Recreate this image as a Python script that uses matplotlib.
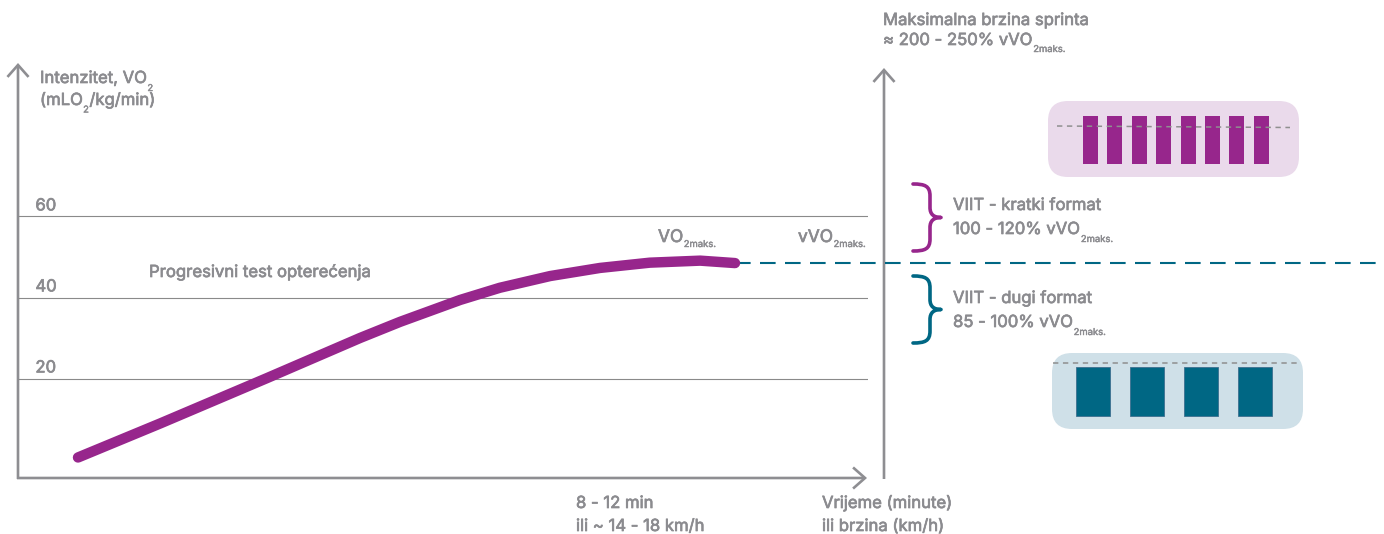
import numpy as np
import matplotlib.pyplot as plt
import matplotlib.patheffects as pe
from matplotlib.patches import FancyBboxPatch, FancyArrowPatch, PathPatch
from matplotlib.path import Path

plt.rcParams['font.family'] = ['Inter', 'DejaVu Sans']

# progressive test curve (time units, VO2 in mL/kg/min)
time_min = [1.00, 2.37, 4.15, 5.70, 6.37, 7.37, 8.03, 8.87, 9.70, 10.53, 11.37, 11.95]
vo2 = [0.5, 8.9, 20.1, 30.0, 34.0, 39.4, 42.4, 45.3, 47.3, 48.6, 49.1, 48.5]
vo2_max = 48.5
grid_levels = [20, 40, 60]
sprint_bars = [1, 1, 1, 1, 1, 1, 1, 1]   # short intervals (sprint)
long_bars = [1, 1, 1, 1]                 # long intervals

purple = '#97268c'
purple_bg = '#eadaeb'
teal = '#006784'
teal_bg = '#cfe0e8'
txt = '#8b8b8f'
axc = '#8e8e92'

W, H = 1384, 534
fig = plt.figure(figsize=(W / 100, H / 100), dpi=100)

# overlay in pixel coordinates for the decorations
ov = fig.add_axes([0, 0, 1, 1])
ov.set_xlim(0, W)
ov.set_ylim(H, 0)
ov.axis('off')

# chart axes: 60 px per time unit, 4.05 px per VO2 unit
ax = fig.add_axes([18 / W, (H - 478) / H, 850 / W, (478 - 60) / H])
ax.set_xlim(0, 850 / 60)
ax.set_ylim((459.5 - 478) / 4.05, (459.5 - 60) / 4.05)
ax.axis('off')
ax.patch.set_alpha(0)

bold = [pe.withStroke(linewidth=0.5, foreground=txt)]

ax.hlines(grid_levels, 0, 850 / 60, color='#8a8a8a', lw=0.8)
for g in grid_levels:
    ax.text(0.29, g + 1.5, str(g), color=txt, fontsize=12,
            ha='left', va='baseline', path_effects=bold)

ax.plot(time_min, vo2, color=purple, lw=7.5, solid_capstyle='round',
        solid_joinstyle='round', zorder=5)
ax.plot([time_min[-1], (W - 18) / 60], [vo2_max, vo2_max], color=teal, lw=1.5,
        dashes=(7.5, 4.5), clip_on=False, zorder=4)


def arrow(p0, p1):
    a = FancyArrowPatch(p0, p1, arrowstyle='->,head_length=0.86,head_width=0.76',
                        mutation_scale=10, color=axc, lw=1.9,
                        shrinkA=0, shrinkB=0, capstyle='butt', joinstyle='miter')
    ov.add_patch(a)


arrow((18, 479), (18, 63))
arrow((17, 478), (867, 478))
arrow((884, 479), (884, 68))


def brace(x0, yt, yb, color):
    xm, xp = x0 + 17, x0 + 28
    ym = (yt + yb) / 2
    verts = [(x0, yt), (x0 + 12, yt), (xm, yt + 2), (xm, yt + 12),
             (xm, ym - 10),
             (xm, ym - 3), (xm + 4, ym), (xp, ym),
             (xm + 4, ym), (xm, ym + 3), (xm, ym + 10),
             (xm, yb - 12),
             (xm, yb - 2), (x0 + 12, yb), (x0, yb)]
    codes = [Path.MOVETO, Path.CURVE4, Path.CURVE4, Path.CURVE4,
             Path.LINETO,
             Path.CURVE4, Path.CURVE4, Path.CURVE4,
             Path.CURVE4, Path.CURVE4, Path.CURVE4,
             Path.LINETO,
             Path.CURVE4, Path.CURVE4, Path.CURVE4]
    ov.add_patch(PathPatch(Path(verts, codes), fill=False, ec=color, lw=2.6,
                           capstyle='round', joinstyle='round'))


brace(913, 184, 251, purple)
brace(913, 276, 343, teal)

# interval boxes
ov.add_patch(FancyBboxPatch((1048, 101), 251, 76, boxstyle='round,pad=0,rounding_size=20',
                            fc=purple_bg, ec='none'))
ov.add_patch(FancyBboxPatch((1052, 353), 251, 76, boxstyle='round,pad=0,rounding_size=20',
                            fc=teal_bg, ec='none'))
sx = 1090.5 + 24.4 * np.arange(len(sprint_bars))
ov.bar(sx, np.array(sprint_bars) * 48, width=15, bottom=116, color=purple)
lx = 1093 + 54 * np.arange(len(long_bars))
ov.bar(lx, np.array(long_bars) * 49, width=34, bottom=367, color=teal,
       edgecolor='#3d6f8f', linewidth=0.6)
ov.plot([1057, 1290], [126, 127.5], color='#8f8f8f', lw=1.1, dashes=(3.5, 3))
ov.plot([1053, 1300], [363, 363], color='#8f8f8f', lw=1.1, dashes=(3.5, 3))

# texts
fs = 12
renderer = fig.canvas.get_renderer()


def label(x, y, s, sub=None, size=fs, drop=7, after=None):
    t = ov.text(x, y, s, color=txt, fontsize=size, ha='left', va='baseline',
                path_effects=bold)
    if sub is None:
        return
    bb = t.get_window_extent(renderer)
    x1 = ov.transData.inverted().transform((bb.x1, bb.y0))[0]
    s2 = ov.text(x1 + 0.5, y + drop, sub, color=txt, fontsize=6.8, ha='left',
                 va='baseline', path_effects=[pe.withStroke(linewidth=0.3, foreground=txt)])
    if after:
        bb2 = s2.get_window_extent(renderer)
        x2 = ov.transData.inverted().transform((bb2.x1, bb2.y0))[0]
        ov.text(x2 + 0.5, y, after, color=txt, fontsize=size, ha='left',
                va='baseline', path_effects=bold)


label(40, 83, 'Intenzitet, VO', '2', drop=8)
label(40, 105, '(mLO', '2', drop=7.5, after='/kg/min)')
label(149, 277, 'Progresivni test opterećenja')
label(658, 242, 'VO', '2maks.', 12.5, drop=5)
label(798, 242, 'vVO', '2maks.', 12.5, drop=5)
label(576, 508, '8 - 12 min')
label(576, 531, 'ili ~ 14 - 18 km/h')
label(822, 508, 'Vrijeme (minute)')
label(822, 531, 'ili brzina (km/h)')
label(883, 25, 'Maksimalna brzina sprinta')
label(883, 45, '≈ 200 - 250% vVO', '2maks.')
label(953, 210, 'VIIT - kratki format')
label(953, 234, '100 - 120% vVO', '2maks.', drop=8)
label(953, 303, 'VIIT - dugi format')
label(953, 327, '85 - 100% vVO', '2maks.', drop=8)

fig.savefig('out.png', dpi=100)
plt.close()
